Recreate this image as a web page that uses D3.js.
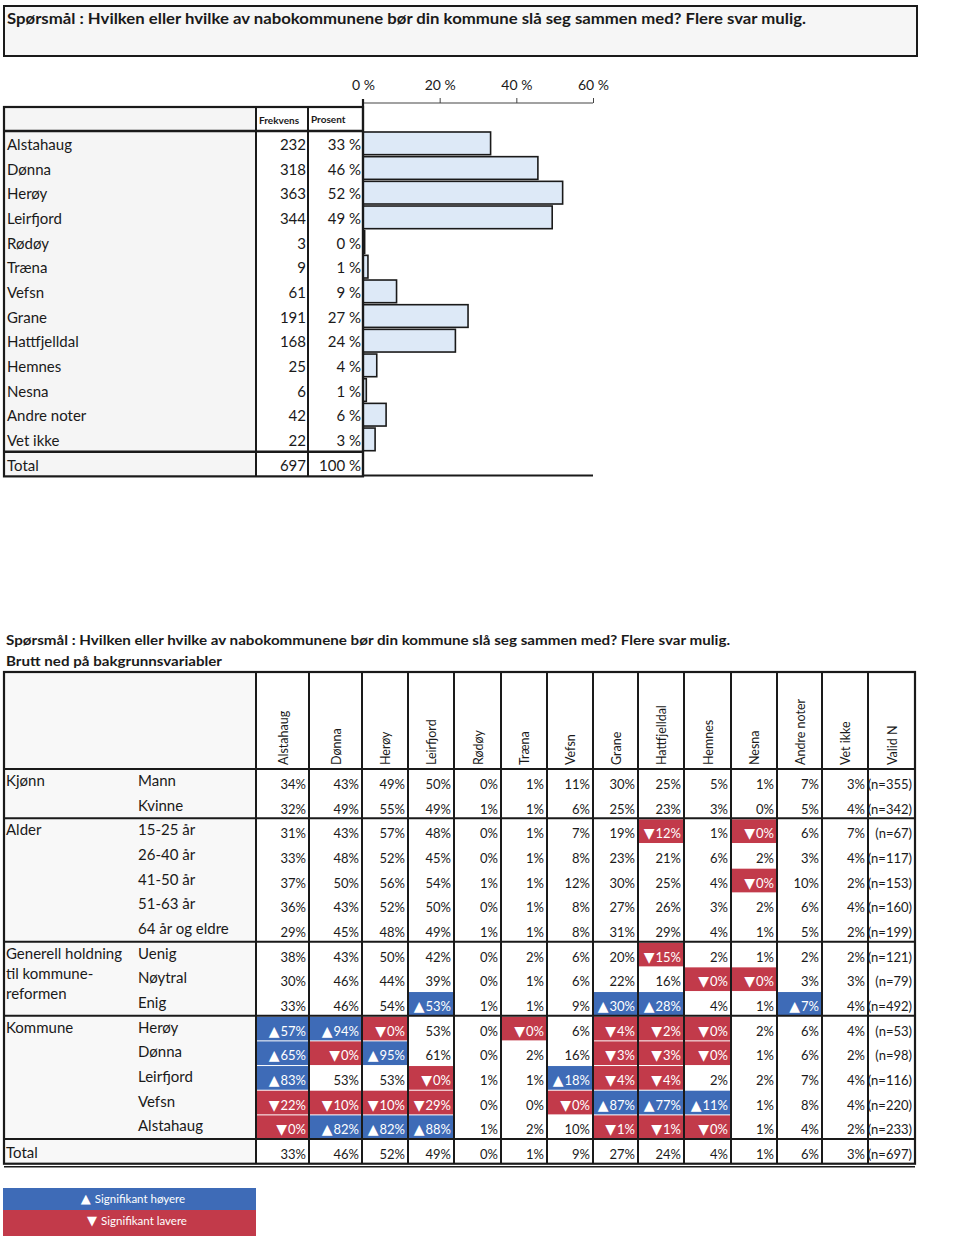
<!DOCTYPE html>
<html><head><meta charset="utf-8">
<script src="https://cdn.jsdelivr.net/npm/d3@7"></script>
<style>body{margin:0;background:#fff}svg{display:block;font-family:Lato,"Open Sans",sans-serif}</style>
</head><body>
<svg id="c" width="960" height="1244"></svg>
<script>
// ---------- DATA ----------
const title = "Spørsmål : Hvilken eller hvilke av nabokommunene bør din kommune slå seg sammen med? Flere svar mulig.";
const subtitle = "Brutt ned på bakgrunnsvariabler";
const topCategories = ["Alstahaug","Dønna","Herøy","Leirfjord","Rødøy","Træna","Vefsn","Grane","Hattfjelldal","Hemnes","Nesna","Andre noter","Vet ikke"];
const topFreq = [232,318,363,344,3,9,61,191,168,25,6,42,22];
const topPct = [33,46,52,49,0,1,9,27,24,4,1,6,3];
const topTotal = 697;
const axisTicks = [0,20,40,60];

const colNames = ["Alstahaug","Dønna","Herøy","Leirfjord","Rødøy","Træna","Vefsn","Grane","Hattfjelldal","Hemnes","Nesna","Andre noter","Vet ikke"];
const groups = [
  {name:["Kjønn"], rows:2},
  {name:["Alder"], rows:5},
  {name:["Generell holdning","til kommune-","reformen"], rows:3},
  {name:["Kommune"], rows:5}
];
const rowLabels = ["Mann","Kvinne","15-25 år","26-40 år","41-50 år","51-63 år","64 år og eldre","Uenig","Nøytral","Enig","Herøy","Dønna","Leirfjord","Vefsn","Alstahaug"];
const values = [
  [34,43,49,50,0,1,11,30,25,5,1,7,3],
  [32,49,55,49,1,1,6,25,23,3,0,5,4],
  [31,43,57,48,0,1,7,19,12,1,0,6,7],
  [33,48,52,45,0,1,8,23,21,6,2,3,4],
  [37,50,56,54,1,1,12,30,25,4,0,10,2],
  [36,43,52,50,0,1,8,27,26,3,2,6,4],
  [29,45,48,49,1,1,8,31,29,4,1,5,2],
  [38,43,50,42,0,2,6,20,15,2,1,2,2],
  [30,46,44,39,0,1,6,22,16,0,0,3,3],
  [33,46,54,53,1,1,9,30,28,4,1,7,4],
  [57,94,0,53,0,0,6,4,2,0,2,6,4],
  [65,0,95,61,0,2,16,3,3,0,1,6,2],
  [83,53,53,0,1,1,18,4,4,2,2,7,4],
  [22,10,10,29,0,0,0,87,77,11,1,8,4],
  [0,82,82,88,1,2,10,1,1,0,1,4,2]
];
// significance: "+" higher, "-" lower, " " none
const sig = [
  "             ",
  "             ",
  "        - -  ",
  "             ",
  "          -  ",
  "             ",
  "             ",
  "        -    ",
  "         --  ",
  "   +   ++  + ",
  "++-  - ---   ",
  "+-+    ---   ",
  "+  -  +--    ",
  "----  -+++   ",
  "-+++   ---   "
];
const validN = [355,342,67,117,153,160,199,121,79,492,53,98,116,220,233];
const totalRow = [33,46,52,49,0,1,9,27,24,4,1,6,3];
const totalN = 697;
const legendItems = [{sym:"▲", text:"Signifikant høyere"},{sym:"▼", text:"Signifikant lavere"}];

// ---------- DRAW ----------
const svg = d3.select("#c");
const BLUE = "#3e6bb7", RED = "#c23a4a", INK = "#1a1a1a";
const SYMFONT = "DejaVu Sans, sans-serif";

function fitText(sel, w){ sel.attr("textLength", w).attr("lengthAdjust","spacingAndGlyphs"); }

// Title box
svg.append("rect").attr("x",4).attr("y",6).attr("width",913).attr("height",50)
  .attr("fill","#f6f6f6").attr("stroke",INK).attr("stroke-width",2);
svg.append("text").attr("x",7).attr("y",24).attr("font-size",16).attr("font-weight","bold")
  .attr("fill",INK).text(title).call(fitText,799);

// Top table geometry
const rowH = 24.67;
const tTop = 107, tHeadB = 131;
const tx0 = 4, tx1 = 256, tx2 = 308, tx3 = 363;
const x = d3.scaleLinear().domain([0,60]).range([tx3,593]);
const yTop = d3.scaleBand().domain(topCategories.concat(["Total"])).range([tHeadB, tHeadB+rowH*14]).paddingInner(0);

svg.append("rect").attr("x",tx0).attr("y",tTop).attr("width",tx3-tx0).attr("height",tHeadB+rowH*14-tTop).attr("fill","#fff");
svg.append("rect").attr("x",tx0).attr("y",tTop).attr("width",tx1-tx0).attr("height",tHeadB+rowH*14-tTop).attr("fill","#f5f5f5");

// axis
const axisY = 103;
const ax = svg.append("g").attr("transform",`translate(0,${axisY})`)
  .call(d3.axisTop(x).tickValues(axisTicks).tickSize(5).tickFormat(d=>d+" %"));
ax.select(".domain").attr("stroke","#444").attr("stroke-width",1.2).attr("d",`M${x(0)},0H${x(60)}`);
ax.selectAll(".tick line").attr("stroke","#444");
ax.selectAll(".tick text").attr("font-size",14).attr("fill",INK).attr("font-family","Lato, sans-serif").attr("dy",-5);
ax.selectAll(".tick").filter(d=>d===0).select("line").attr("y2",4);

// bars
svg.append("g").selectAll("rect").data(topCategories).join("rect")
  .attr("x",x(0))
  .attr("y",d=>yTop(d)+1)
  .attr("width",(d,i)=>x(topFreq[i]/topTotal*100)-x(0))
  .attr("height",yTop.bandwidth()-2)
  .attr("fill","#dde9f7").attr("stroke",INK).attr("stroke-width",1.6);

svg.append("text").attr("x",tx1+3).attr("y",124).attr("font-size",10).attr("font-weight","bold").attr("fill",INK).text("Frekvens");
svg.append("text").attr("x",tx2+3).attr("y",123).attr("font-size",10).attr("font-weight","bold").attr("fill",INK).text("Prosent");

const topRows = topCategories.map((c,i)=>({c, f:topFreq[i], p:topPct[i]})).concat([{c:"Total",f:topTotal,p:100}]);
const tg = svg.append("g").attr("font-size",15).attr("fill",INK);
tg.selectAll("text.l").data(topRows).join("text").attr("class","l")
  .attr("x",tx0+3).attr("y",d=>yTop(d.c)+19).text(d=>d.c);
tg.selectAll("text.f").data(topRows).join("text").attr("class","f")
  .attr("x",tx2-2).attr("y",d=>yTop(d.c)+19).attr("text-anchor","end").text(d=>d.f);
tg.selectAll("text.p").data(topRows).join("text").attr("class","p")
  .attr("x",tx3-2).attr("y",d=>yTop(d.c)+19).attr("text-anchor","end").text(d=>d.p+" %");

const tl = svg.append("g").attr("stroke",INK).attr("fill","none");
const tBottom = tHeadB+rowH*14;
tl.append("rect").attr("x",tx0).attr("y",tTop).attr("width",tx3-tx0).attr("height",tBottom-tTop).attr("stroke-width",2.2);
[tx1,tx2].forEach(v=>tl.append("line").attr("x1",v).attr("x2",v).attr("y1",tTop).attr("y2",tBottom).attr("stroke-width",2));
tl.append("line").attr("x1",tx3).attr("x2",tx3).attr("y1",axisY-4).attr("y2",tBottom).attr("stroke-width",2.2);
tl.append("line").attr("x1",tx0).attr("x2",tx3).attr("y1",tHeadB).attr("y2",tHeadB).attr("stroke-width",2.5);
tl.append("line").attr("x1",tx0).attr("x2",tx3).attr("y1",yTop("Total")).attr("y2",yTop("Total")).attr("stroke-width",2.5);
tl.append("line").attr("x1",tx3).attr("x2",593).attr("y1",tBottom-1).attr("y2",tBottom-1).attr("stroke-width",2);

// ---------- Bottom table ----------
svg.append("text").attr("x",6).attr("y",645).attr("font-size",14).attr("font-weight","bold").attr("fill",INK).text(title).call(fitText,724);
svg.append("text").attr("x",6).attr("y",666).attr("font-size",14).attr("font-weight","bold").attr("fill",INK).text(subtitle).call(fitText,216);

const edges = [256,309,362,408,454,501,547,593,638,684,731,777,822,868,915];
const bTop = 672, bHeadB = 769;
const bx0 = 4, bxSub = 137;
const nRows = rowLabels.length;
const yRow = d3.scaleBand().domain(d3.range(nRows+1)).range([bHeadB, bHeadB+rowH*(nRows+1)]);
const bBottom = bHeadB+rowH*(nRows+1);
const allCols = colNames.concat(["Valid N"]);
const xCol = i=>edges[i], wCol = i=>edges[i+1]-edges[i];

svg.append("rect").attr("x",bx0).attr("y",bTop).attr("width",edges[0]-bx0).attr("height",bBottom-bTop).attr("fill","#f8f8f8");

const cells = [];
values.forEach((row,r)=>row.forEach((v,c)=>cells.push({r,c,v,s:sig[r][c]})));
svg.append("g").selectAll("rect").data(cells.filter(d=>d.s==="+"||d.s==="-")).join("rect")
  .attr("x",d=>xCol(d.c)+1).attr("y",d=>yRow(d.r)+1)
  .attr("width",d=>wCol(d.c)-2).attr("height",yRow.bandwidth()-1)
  .attr("fill",d=>d.s==="+"?BLUE:RED);

svg.append("g").selectAll("text").data(allCols).join("text")
  .attr("transform",(d,i)=>`translate(${xCol(i)+wCol(i)/2+5},${bHeadB-4}) rotate(-90)`)
  .attr("font-size",12.5).attr("fill",INK).text(d=>d);

// cell numbers with symbol tspans
const ct = svg.append("g").attr("font-size",13).selectAll("text").data(cells).join("text")
  .attr("x",d=>edges[d.c+1]-3).attr("y",d=>yRow(d.r)+20).attr("text-anchor","end")
  .attr("fill",d=>d.s.trim()?"#fff":INK);
ct.filter(d=>d.s.trim()).append("tspan").attr("font-family",SYMFONT).attr("font-size",14)
  .text(d=>d.s==="+"?"▲":"▼");
ct.append("tspan").attr("dx",d=>d.s.trim()?1:0).text(d=>d.v+"%");

svg.append("g").attr("font-size",13).attr("fill",INK).selectAll("text").data(validN.concat([totalN])).join("text")
  .attr("x",edges[14]-3).attr("y",(d,i)=>yRow(i)+20).attr("text-anchor","end").text(d=>`(n=${d})`);
svg.append("g").attr("font-size",13).attr("fill",INK).selectAll("text").data(totalRow).join("text")
  .attr("x",(d,i)=>edges[i+1]-3).attr("y",yRow(nRows)+20).attr("text-anchor","end").text(d=>d+"%");

svg.append("g").attr("font-size",15).attr("fill",INK).selectAll("text").data(rowLabels).join("text")
  .attr("x",bxSub+1).attr("y",(d,i)=>yRow(i)+17).text(d=>d);
let gi = 0;
const gStarts = [];
groups.forEach(g=>{ gStarts.push(gi); gi += g.rows; });
const gl = svg.append("g").attr("font-size",15).attr("fill",INK);
groups.forEach((g,k)=>{
  g.name.forEach((line,j)=>gl.append("text").attr("x",bx0+2).attr("y",yRow(gStarts[k])+17+j*20).text(line));
});
gl.append("text").attr("x",bx0+2).attr("y",yRow(nRows)+19).text("Total");

const bl = svg.append("g").attr("stroke",INK).attr("fill","none");
bl.append("rect").attr("x",bx0).attr("y",bTop).attr("width",edges[14]-bx0).attr("height",bBottom-bTop).attr("stroke-width",2.2);
edges.slice(0,14).forEach(v=>bl.append("line").attr("x1",v).attr("x2",v).attr("y1",bTop).attr("y2",bBottom).attr("stroke-width",2));
bl.append("line").attr("x1",bx0).attr("x2",edges[14]).attr("y1",bHeadB).attr("y2",bHeadB).attr("stroke-width",2);
gStarts.slice(1).concat([nRows]).forEach(r=>bl.append("line").attr("x1",bx0).attr("x2",edges[14]).attr("y1",yRow(r)).attr("y2",yRow(r)).attr("stroke-width",2));
bl.append("line").attr("x1",bx0).attr("x2",edges[14]).attr("y1",bBottom+3).attr("y2",bBottom+3).attr("stroke-width",1.5);

// legend
const lg = svg.append("g");
lg.selectAll("rect").data(legendItems).join("rect")
  .attr("x",3).attr("y",(d,i)=>1188+i*22).attr("width",253).attr("height",(d,i)=>i?26:22)
  .attr("fill",(d,i)=>i?RED:BLUE);
const lt = lg.selectAll("text").data(legendItems).join("text")
  .attr("x",(d,i)=>i?137:133).attr("y",(d,i)=>1203+i*22).attr("text-anchor","middle")
  .attr("font-size",11.5).attr("fill","#fff");
lt.append("tspan").attr("font-family",SYMFONT).attr("font-size",13).text(d=>d.sym);
lt.append("tspan").attr("dx",4).text(d=>d.text);
</script>
</body></html>
